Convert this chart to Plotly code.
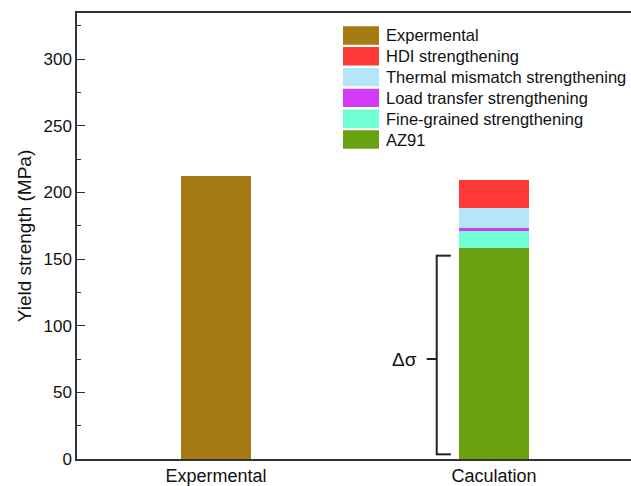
import plotly.graph_objects as go

categories = ["Expermental", "Caculation"]
experimental = [212.0, None]
az91 = [None, 158.5]
fine_grained = [None, 12.5]
load_transfer = [None, 2.0]
thermal = [None, 15.5]
hdi = [None, 21.0]

series_names = ["AZ91", "Fine-grained strengthening", "Load transfer strengthening",
                "Thermal mismatch strengthening", "HDI strengthening"]
series_values = [az91, fine_grained, load_transfer, thermal, hdi]
series_colors = ["#68A211", "#70FFD4", "#D23CF8", "#B4E5FA", "#FF3838"]
exp_color = "#A67A12"

legend_names = ["Expermental", "HDI strengthening", "Thermal mismatch strengthening",
                "Load transfer strengthening", "Fine-grained strengthening", "AZ91"]
legend_colors = [exp_color, "#FF3838", "#B4E5FA", "#D23CF8", "#70FFD4", "#68A211"]

y_ticks = [0, 50, 100, 150, 200, 250, 300]
bracket_low, bracket_high, bracket_mid = 3.5, 152.5, 75.0

FONT = "Liberation Sans, Arial, sans-serif"

fig = go.Figure()
fig.add_trace(go.Bar(x=categories, y=experimental, marker_color=exp_color,
                     marker_line_width=0, width=0.25, showlegend=False))
for name, vals, col in zip(series_names, series_values, series_colors):
    fig.add_trace(go.Bar(x=categories, y=vals, name=name, marker_color=col,
                         marker_line_width=0, width=0.25, showlegend=False))

# Plot area geometry (pixels) for custom legend
L, T, B, W = 77, 13, 459, 554
H = B - T

def px_x(p):
    return (p - L) / W

def px_y(p):
    return (B - p) / H

row0, row_step = 35.5, 20.8
for i, (nm, col) in enumerate(zip(legend_names, legend_colors)):
    cy = row0 + i * row_step
    fig.add_shape(type="rect", xref="paper", yref="paper",
                  x0=px_x(343), x1=px_x(379), y0=px_y(cy + 9.2), y1=px_y(cy - 9.2),
                  fillcolor=col, line_width=0, layer="above")
    fig.add_annotation(xref="paper", yref="paper", x=px_x(384), y=px_y(cy),
                       text=nm, showarrow=False, xanchor="left", yanchor="middle",
                       font=dict(family=FONT, size=16.5, color="#111"))

# Δσ bracket
bx, barm, btick = 0.794, 0.845, 0.758
lc = dict(color="#222", width=2)
fig.add_shape(type="line", xref="x", yref="y", x0=bx, x1=bx, y0=bracket_low, y1=bracket_high, line=lc)
fig.add_shape(type="line", xref="x", yref="y", x0=bx - 0.003, x1=barm, y0=bracket_low, y1=bracket_low, line=lc)
fig.add_shape(type="line", xref="x", yref="y", x0=bx - 0.003, x1=barm, y0=bracket_high, y1=bracket_high, line=lc)
fig.add_shape(type="line", xref="x", yref="y", x0=btick, x1=bx, y0=bracket_mid, y1=bracket_mid, line=lc)
fig.add_annotation(xref="x", yref="y", x=0.678, y=bracket_mid, text="Δσ", showarrow=False,
                   xanchor="center", yanchor="middle", font=dict(family=FONT, size=19, color="#111"))

fig.update_layout(
    width=631, height=486,
    margin=dict(l=L, r=0, t=T, b=486 - B, autoexpand=False),
    plot_bgcolor="white", paper_bgcolor="white",
    barmode="stack", showlegend=False,
    font=dict(family=FONT, color="#111"),
)
fig.update_xaxes(range=[-0.5, 1.493], showline=True, linecolor="#333", linewidth=1.5,
                 mirror=True, ticks="", showgrid=False, zeroline=False, automargin=False,
                 tickfont=dict(size=18, family=FONT, color="#111"))
fig.update_yaxes(range=[0, 334.5], tickvals=y_ticks, showline=True, linecolor="#333",
                 linewidth=1.5, ticks="inside", ticklen=8, tickwidth=1.2, tickcolor="#333",
                 minor=dict(dtick=25, ticks="inside", ticklen=4, tickwidth=1.2, tickcolor="#333"),
                 showgrid=False, zeroline=False, automargin=False,
                 tickfont=dict(size=17, family=FONT, color="#111"),
                 title=dict(text="Yield strength (MPa)", font=dict(size=19, family=FONT, color="#111"),
                            standoff=7))

fig.write_html("out.html", config={"displayModeBar": False})

with open("out.html", encoding="utf-8") as f:
    html = f.read()
html = html.replace("<head>", "<head><style>html,body{margin:0;padding:0;overflow:hidden;}</style>", 1)
with open("out.html", "w", encoding="utf-8") as f:
    f.write(html)
